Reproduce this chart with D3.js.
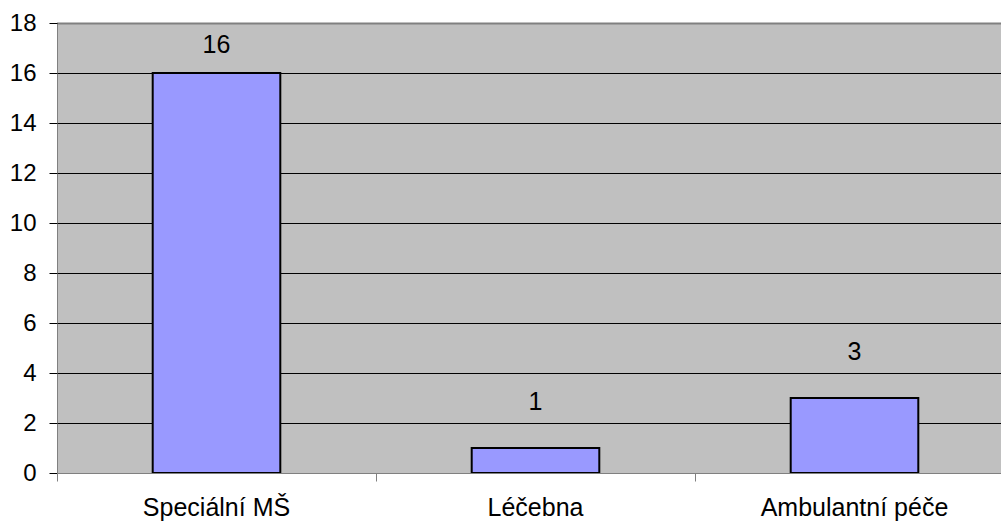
<!DOCTYPE html>
<html><head><meta charset="utf-8">
<script src="https://cdn.jsdelivr.net/npm/d3@7"></script>
<style>body{margin:0;background:#fff}svg{display:block}text{font-family:"Liberation Sans",Arial,sans-serif}</style>
</head><body>
<script>
const categories = ["Speciální MŠ", "Léčebna", "Ambulantní péče"];
const values = [16, 1, 3];
const yTicks = [0, 2, 4, 6, 8, 10, 12, 14, 16, 18];

(function () {
const W = 1001, H = 521;
const pL = 57, pR = 1014, pT = 23, pB = 473;
const svg = d3.select("body").append("svg").attr("width", W).attr("height", H);

const x = d3.scaleBand().domain(categories).range([pL, pR]).paddingInner(0).paddingOuter(0);
const y = d3.scaleLinear().domain([0, 18]).range([pB, pT]);

svg.append("rect").attr("x", pL).attr("y", pT).attr("width", pR - pL).attr("height", pB - pT).attr("fill", "#C0C0C0");

svg.selectAll(".grid").data(yTicks.filter(d => d > 0 && d < 18)).enter().append("line")
  .attr("x1", pL).attr("x2", pR).attr("y1", d => y(d) + 0.5).attr("y2", d => y(d) + 0.5)
  .attr("stroke", "#000").attr("stroke-width", 1);
svg.append("line").attr("x1", pL).attr("x2", pR).attr("y1", pT + 0.5).attr("y2", pT + 0.5).attr("stroke", "#808080").attr("stroke-width", 2);

const bw = x.bandwidth() * 0.4;
svg.selectAll(".bar").data(values).enter().append("rect")
  .attr("x", (d, i) => x(categories[i]) + (x.bandwidth() - bw) / 2)
  .attr("y", d => y(d))
  .attr("width", bw).attr("height", d => y(0) - y(d))
  .attr("fill", "#9999FF").attr("stroke", "#000").attr("stroke-width", 2);

svg.selectAll(".val").data(values).enter().append("text")
  .attr("x", (d, i) => x(categories[i]) + x.bandwidth() / 2)
  .attr("y", d => Math.max(y(d) - 38, pT + 30))
  .attr("text-anchor", "middle").attr("font-size", 25).attr("fill", "#000").text(d => d);

const yAxis = svg.append("g").attr("transform", `translate(${pL + 0.5},0)`)
  .call(d3.axisLeft(y).tickValues(yTicks).tickSize(8).tickPadding(13).tickFormat(d3.format("d")));
yAxis.select(".domain").attr("stroke", "#808080").attr("d", `M0,${pT}V${pB + 8}`);
yAxis.selectAll(".tick line").attr("stroke", "#000");
yAxis.selectAll(".tick text").attr("font-size", 24).attr("fill", "#000").attr("font-family", "Liberation Sans, Arial, sans-serif");

const xAxis = svg.append("g").attr("transform", `translate(0,${pB + 0.5})`);
xAxis.append("line").attr("x1", pL).attr("x2", pR).attr("stroke", "#808080").attr("stroke-width", 1);
const bounds = categories.map(c => x(c)).concat([pR]);
xAxis.selectAll(".xt").data(bounds).enter().append("line")
  .attr("x1", d => Math.round(d) + 0.5).attr("x2", d => Math.round(d) + 0.5).attr("y1", 0).attr("y2", 8).attr("stroke", "#808080");
xAxis.selectAll(".xl").data(categories).enter().append("text")
  .attr("x", d => x(d) + x.bandwidth() / 2).attr("y", 42.5)
  .attr("text-anchor", "middle").attr("font-size", 25).attr("fill", "#000").text(d => d);
})();
</script>
</body></html>
